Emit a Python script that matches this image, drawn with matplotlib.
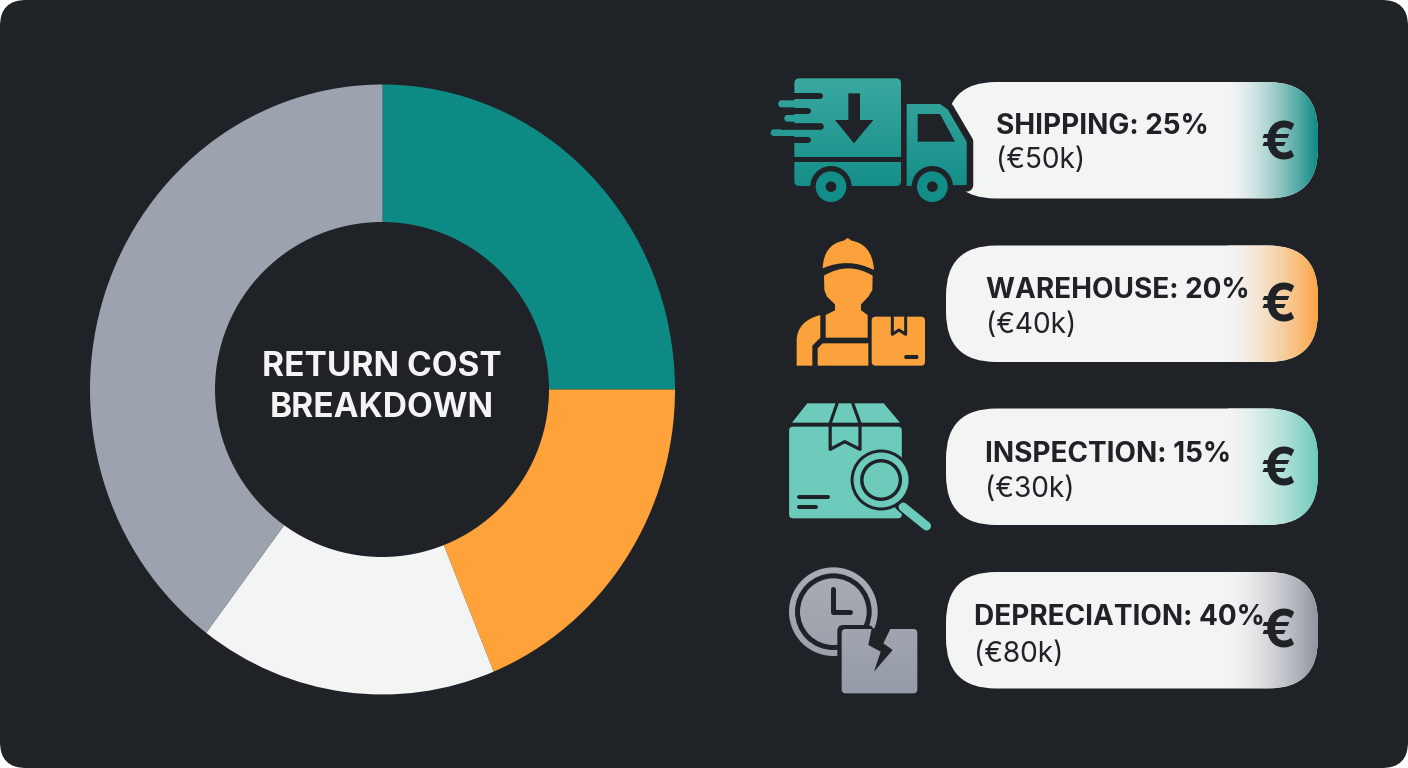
import numpy as np
import matplotlib
matplotlib.use("Agg")
import matplotlib.pyplot as plt
from matplotlib.patches import FancyBboxPatch, Polygon, Circle, Ellipse, PathPatch, Rectangle
from matplotlib.path import Path
from matplotlib.colors import to_rgb

# data
categories = ["SHIPPING", "WAREHOUSE", "INSPECTION", "DEPRECIATION"]
percents = [25, 20, 15, 40]
costs = ["€50k", "€40k", "€30k", "€80k"]
# slice sizes as drawn in the picture, they are not quite the labelled percents
slice_sizes = [25.0, 18.8, 16.5, 39.7]
slice_colors = ["#0d8a84", "#ffa23a", "#f3f4f4", "#9ca3af"]
pill_colors = ["#0d8a84", "#fba544", "#6ccbbb", "#8f949f"]
title_lines = ["RETURN COST", "BREAKDOWN"]

BG = "#1f2328"
WHITE = "#f3f4f4"
plt.rcParams["font.family"] = ["Inter", "DejaVu Sans"]

fig = plt.figure(figsize=(14.08, 7.68), dpi=100, facecolor="white")

# page background, pixel coordinates
bg = fig.add_axes([0, 0, 1, 1], zorder=0)
bg.set_xlim(0, 1408)
bg.set_ylim(768, 0)
bg.axis("off")
bg.add_patch(FancyBboxPatch((0, 0), 1408, 768, boxstyle="round,pad=0,rounding_size=26",
                            fc=BG, ec="none"))

# the donut is slightly taller than wide in the reference
pie_ax = fig.add_axes([90 / 1408, (768 - 694.5) / 768, 585 / 1408, 610 / 768], zorder=1)
pie_ax.pie(slice_sizes, colors=slice_colors, startangle=90, counterclock=False,
           radius=1, wedgeprops={"linewidth": 0})
pie_ax.set_aspect("auto")
pie_ax.set_xlim(-1, 1)
pie_ax.set_ylim(-1, 1)
pie_ax.patch.set_visible(False)

ax = fig.add_axes([0, 0, 1, 1], zorder=2)
ax.set_xlim(0, 1408)
ax.set_ylim(768, 0)
ax.axis("off")
ax.patch.set_visible(False)

_z = [10]

def add(patch):
    _z[0] += 1
    patch.set_zorder(_z[0])
    ax.add_patch(patch)
    return patch

def rrect(x0, y0, x1, y1, r, color, ec="none", lw=0):
    return add(FancyBboxPatch((x0, y0), x1 - x0, y1 - y0,
                              boxstyle=f"round,pad=0,rounding_size={r}",
                              fc=color, ec=ec, lw=lw))

def poly(pts, color, ec=None, lw=0):
    return add(Polygon(pts, closed=True, fc=color, ec=ec if ec else "none", lw=lw, joinstyle="round"))

def line(pts, color, width):
    pts = np.array(pts, dtype=float)
    ax.plot(pts[:, 0], pts[:, 1], color=color, lw=width * 0.72, solid_capstyle="round",
            solid_joinstyle="round", zorder=_z[0] + 1)
    _z[0] += 1

def gradient(patch, c0, c1, box):
    # paint a vertical two colour gradient clipped to a patch, box is x0, y0, x1, y1
    x0, y0, x1, y1 = box
    t = np.linspace(0, 1, 128)
    rgb = np.outer(1 - t, to_rgb(c0)) + np.outer(t, to_rgb(c1))
    patch.set_facecolor("none")
    patch.set_edgecolor("none")
    _z[0] += 1
    im = ax.imshow(rgb[:, np.newaxis, :], extent=(x0, x1, y1, y0), aspect="auto", zorder=_z[0],
                   interpolation="bilinear")
    im.set_clip_path(patch)
    ax.set_xlim(0, 1408)
    ax.set_ylim(768, 0)
    return im

def zm(pts, ox, oy, s=3.0):
    return [(ox + x / s, oy + y / s) for x, y in pts]

# centre hole and title
add(Ellipse((382, 389.5), 334, 335, fc=BG, ec="none"))
ax.text(382, 376, title_lines[0], color=WHITE, fontsize=24.1, fontweight="bold", ha="center", va="baseline", zorder=50)
ax.text(382, 417, title_lines[1], color=WHITE, fontsize=24.1, fontweight="bold", ha="center", va="baseline", zorder=50)

# pills
pill_tops = [82, 245.5, 408.5, 572]
pill_h = 116.5
for top, col in zip(pill_tops, pill_colors):
    rrect(946, top, 1318, top + pill_h, 50, WHITE)
    clip = add(FancyBboxPatch((946, top), 372, pill_h, boxstyle="round,pad=0,rounding_size=50", fc="none", ec="none"))
    t = np.linspace(0, 1, 200)
    ramp = t ** 1.5
    rgb = np.outer(1 - ramp, to_rgb(WHITE)) + np.outer(ramp, to_rgb(col))
    _z[0] += 1
    im = ax.imshow(rgb[np.newaxis, :, :], extent=(1228, 1318, top + pill_h, top), aspect="auto",
                   zorder=_z[0], interpolation="bilinear")
    im.set_clip_path(clip)
    ax.set_xlim(0, 1408)
    ax.set_ylim(768, 0)

# truck icon
TOP, BOT = "#3aa9a0", "#0f8a85"
tb = (770, 76, 975, 205)
Tz = lambda pts: zm(pts, 765, 70)
tx, ty = (lambda v: 765 + v / 3), (lambda v: 70 + v / 3)
# dark halo of the cab bites into the pill
cab_pts = Tz([(425, 102), (525, 102), (548, 118), (605, 215), (605, 345), (425, 348)])
poly(cab_pts, BG, ec=BG, lw=9.5)
for bar in [(40, 91, 110, 112), (58, 135, 110, 155), (17, 178, 110, 198)]:
    p = rrect(tx(bar[0]), ty(bar[1]), tx(bar[2]), ty(bar[3]), 3.4, "none")
    gradient(p, TOP, BOT, tb)
p = rrect(tx(88), ty(25), tx(408), ty(348), 5, "none")
gradient(p, TOP, BOT, tb)
p = poly(cab_pts, "none")
gradient(p, TOP, BOT, tb)
for y0, y1, x0, x1 in [(70, 88, 80, 165), (113, 131, 50, 130), (157, 177, 50, 165), (200, 218, 50, 130)]:
    line(Tz([(x0, (y0 + y1) / 2), (x1, (y0 + y1) / 2)]), BG, (y1 - y0) / 3)
add(Rectangle((tx(88), ty(262)), (408 - 88) / 3, 13 / 3, fc=BG, ec="none"))
poly(Tz([(250, 70), (285, 70), (285, 150), (325, 150), (267, 220), (210, 150), (250, 150)]), BG)
poly(Tz([(458, 132), (525, 132), (570, 215), (458, 215)]), BG)
for cx in [198, 502]:
    add(Circle((tx(cx), ty(350)), 62 / 3, fc=BG, ec="none"))
    add(Circle((tx(cx), ty(350)), 46 / 3, fc="#138d87", ec="none"))
    add(Circle((tx(cx), ty(350)), 16 / 3, fc=BG, ec="none"))

# worker icon
ORANGE = "#fba23c"
Wz = lambda pts: zm(pts, 785, 235)
MV, C3, LN, CL = Path.MOVETO, Path.CURVE3, Path.LINETO, Path.CLOSEPOLY
hat = Wz([(113, 100), (116, 28), (176, 17), (188, 9), (200, 17), (262, 28), (267, 105), (190, 66), (113, 100), (113, 100)])
add(PathPatch(Path(hat, [MV, C3, C3, LN, LN, C3, C3, C3, C3, CL]), fc=ORANGE, ec="none"))
head = Wz([(117, 122), (190, 78), (263, 122), (262, 165), (250, 185), (228, 208), (228, 226), (248, 240),
           (248, 308), (122, 308), (122, 240), (150, 226), (150, 208), (126, 185), (118, 165), (117, 122), (117, 122)])
add(PathPatch(Path(head, [MV, C3, C3, LN, LN, LN, LN, LN, LN, LN, LN, LN, LN, LN, LN, LN, CL]), fc=ORANGE, ec="none"))
arm = Wz([(106, 240), (37, 258), (35, 315), (35, 392), (82, 392), (82, 332), (106, 308), (106, 240)])
add(PathPatch(Path(arm, [MV, C3, C3, LN, LN, LN, LN, CL]), fc=ORANGE, ec="none"))
poly(Wz([(98, 340), (113, 325), (250, 325), (250, 392), (98, 392)]), ORANGE)
rrect(785 + 260 / 3, 235 + 245 / 3, 785 + 420 / 3, 235 + 392 / 3, 4, ORANGE)
line(Wz([(322, 245), (322, 298), (342, 285), (362, 298), (362, 245)]), BG, 3)
rrect(785 + 358 / 3, 235 + 360 / 3, 785 + 400 / 3, 235 + 372 / 3, 1.5, BG)

# box with magnifier icon
TEAL = "#6ccbbb"
Bz = lambda pts: [(760 + x / 2.75, 390 + y / 3) for x, y in pts]
bx, by = (lambda v: 760 + v / 2.75), (lambda v: 390 + v / 3)
poly(Bz([(130, 40), (340, 40), (385, 98), (88, 98)]), TEAL)
rrect(bx(80), by(110), bx(390), by(385), 4, TEAL)
ribbon = Bz([(212, 40), (193, 100), (193, 178), (233, 155), (275, 178), (275, 100), (255, 40)])
line(ribbon, BG, 3.2)
line(Bz([(108, 320), (188, 320)]), BG, 4)
line(Bz([(108, 350), (153, 350)]), BG, 4)
mx, my = bx(333), by(270)
line([(mx + 20, my + 24), (bx(458), by(408))], BG, 14)
line([(mx + 22, my + 27), (bx(458), by(408))], TEAL, 9)
add(Circle((mx, my), 30.5, fc=BG, ec="none"))
add(Circle((mx, my), 27.5, fc=TEAL, ec="none"))
add(Circle((mx, my), 21, fc=BG, ec="none"))
add(Circle((mx, my), 17.5, fc=TEAL, ec="none"))

# clock and cracked block icon
GTOP, GBOT = "#a9adb5", "#969ba6"
Cz = lambda pts: zm(pts, 780, 560)
ccx, ccy = 780 + 160 / 3, 560 + 155 / 3
cb = (785, 565, 920, 695)
gradient(add(Circle((ccx, ccy), 133 / 3, fc="none")), GTOP, GBOT, cb)
add(Circle((ccx, ccy), 115 / 3, fc=BG, ec="none"))
gradient(add(Circle((ccx, ccy), 100 / 3, fc="none")), GTOP, GBOT, cb)
line(Cz([(160, 88), (160, 155), (210, 155)]), BG, 5)
rrect(780 + 172 / 3, 560 + 195 / 3, 780 + 280 / 3, 560 + 300 / 3, 6, BG)
p = rrect(780 + 185 / 3, 560 + 207 / 3, 780 + 412 / 3, 560 + 400 / 3, 4, "none")
gradient(p, "#a9adb6", "#969ca8", cb)
poly(Cz([(275, 205), (332, 205), (310, 250), (338, 270), (282, 335), (302, 275), (265, 255)]), BG)

# labels
label_x = [996, 986, 985, 974]
base_1 = [134, 298, 462, 625]
base_2 = [168, 333, 497, 662]
euro_y = [140, 303, 466, 629]
for i, name in enumerate(categories):
    ax.text(label_x[i], base_1[i], f"{name}: {percents[i]}%", color=BG, fontsize=20.1, fontweight="bold",
            ha="left", va="baseline", zorder=60)
    ax.text(label_x[i], base_2[i], f"({costs[i]})", color=BG, fontsize=20.2, fontweight=400,
            ha="left", va="baseline", zorder=60)
    ax.text(1279, euro_y[i], "€", color=BG, fontsize=38, fontweight="bold", ha="center", va="center_baseline", zorder=60)

fig.savefig("out.png", dpi=100, facecolor="white")
